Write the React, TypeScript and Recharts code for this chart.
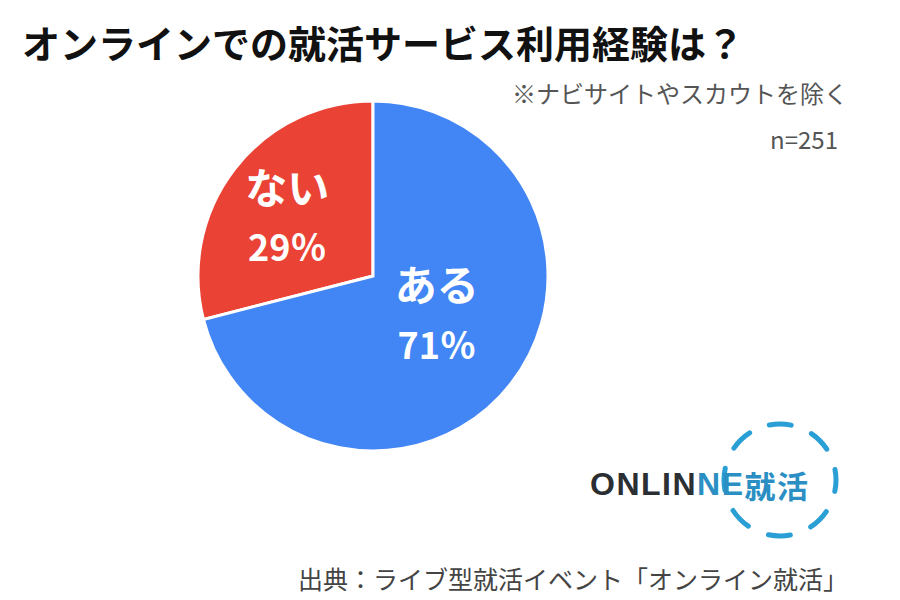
import { PieChart, Pie, Cell } from 'recharts';

const labels = ['ない', 'ある'];
const values = [29, 71];
const colors = ['#EA4335', '#4285F4'];
// where each label sits: share of the radius, and a nudge of its angle in degrees
const labelRadius = [0.6, 0.42];
const labelAngleShift = [2.6, 8];

const data = labels.map((name, i) => ({ name, value: values[i] }));

const RAD = Math.PI / 180;
const FONT = '"Noto Sans CJK JP", "Noto Sans", sans-serif';

const renderLabel = (props: any) => {
  const { cx, cy, midAngle, outerRadius, index, name, value } = props;
  const r = outerRadius * labelRadius[index];
  const a = (midAngle + labelAngleShift[index]) * RAD;
  const x = cx + r * Math.cos(-a);
  const y = cy + r * Math.sin(-a);
  return (
    <g>
      <text x={x} y={y - 30} fill="#fff" fontSize={42} fontWeight={700} textAnchor="middle" dominantBaseline="central" fontFamily={FONT}>
        {name}
      </text>
      <text x={x} y={y + 30} fill="#fff" fontSize={36} fontWeight={700} textAnchor="middle" dominantBaseline="central" fontFamily={FONT}>
        {value}％
      </text>
    </g>
  );
};

export default function App() {
  return (
    <div style={{ position: 'absolute', left: 0, top: 0, width: 900, height: 600, background: '#fff', fontFamily: FONT }}>
      <PieChart width={900} height={600} margin={{ top: 0, right: 0, bottom: 0, left: 0 }}>
        <Pie
          data={data}
          dataKey="value"
          nameKey="name"
          cx={373}
          cy={276}
          outerRadius={175}
          startAngle={90}
          endAngle={450}
          stroke="#fff"
          strokeWidth={3}
          label={renderLabel}
          labelLine={false}
          isAnimationActive={false}
        >
          {data.map((_, i) => (
            <Cell key={`cell-${i}`} fill={colors[i]} />
          ))}
        </Pie>
      </PieChart>
      <svg width={900} height={600} style={{ position: 'absolute', left: 0, top: 0, pointerEvents: 'none' }}>
        <text x={22} y={41} fontSize={38} fontWeight={700} fill="#111" dominantBaseline="central" fontFamily={FONT}>
          オンラインでの就活サービス利用経験は？
        </text>
        <text x={848} y={92} fontSize={24} fill="#555" textAnchor="end" dominantBaseline="central" fontFamily={FONT}>
          ※ナビサイトやスカウトを除く
        </text>
        <text x={838} y={138} fontSize={24} fill="#555" textAnchor="end" dominantBaseline="central" fontFamily={FONT}>
          n=251
        </text>
        <circle
          cx={780}
          cy={480}
          r={56}
          fill="none"
          stroke="#2A9FD6"
          strokeWidth={5}
          strokeDasharray="22 22"
          strokeLinecap="round"
          transform="rotate(-101 780 480)"
        />
        <text x={590} y={484} fontSize={32} fontWeight={700} letterSpacing={1.5} dominantBaseline="central" fontFamily='"Liberation Sans", Arial, sans-serif'>
          <tspan fill="#2b2f33">ONLIN</tspan>
          <tspan fill="#2B8FC4">NE</tspan>
          <tspan fill="#2B8FC4" fontFamily={FONT} fontSize={31}>就活</tspan>
        </text>
        <text x={848} y={578} fontSize={25} fill="#444" textAnchor="end" dominantBaseline="central" fontFamily={FONT}>
          出典：ライブ型就活イベント「オンライン就活」
        </text>
      </svg>
    </div>
  );
}
